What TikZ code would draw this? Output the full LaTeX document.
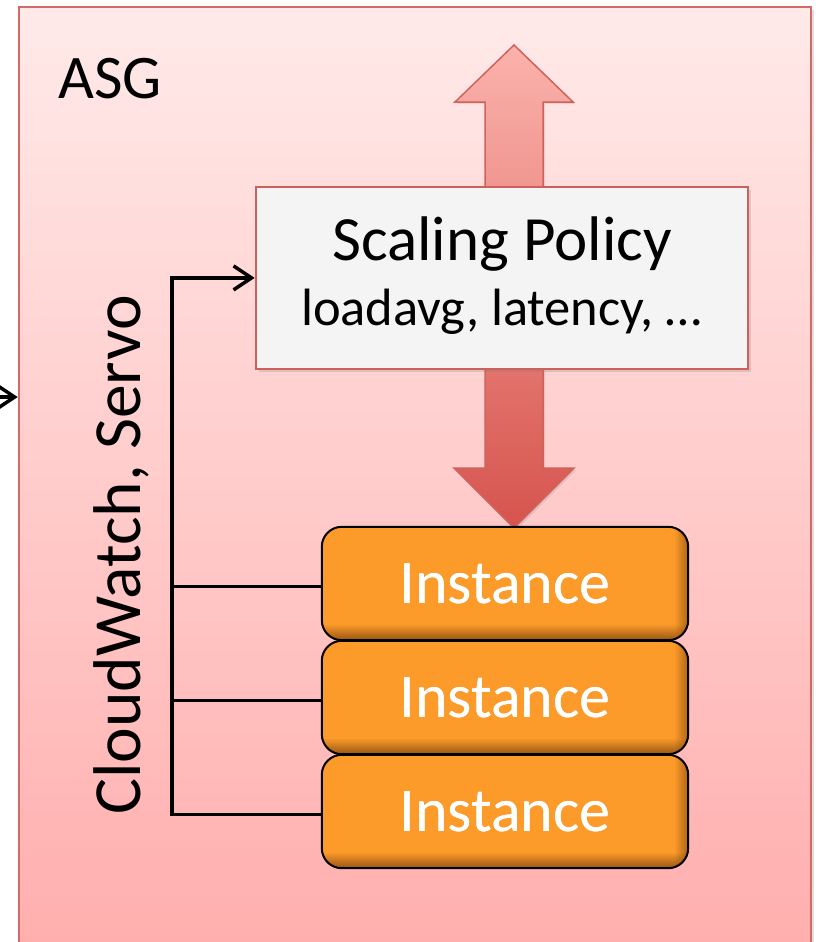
\documentclass[tikz,border=0pt]{standalone}
\usepackage{fontspec}
\setmainfont{Carlito}
\usetikzlibrary{arrows.meta,shadows,fadings}

\definecolor{asgtop}{RGB}{255,234,233}
\definecolor{asgbottom}{RGB}{255,174,173}
\definecolor{asgline}{RGB}{212,106,101}
\definecolor{policyfill}{RGB}{244,244,244}
\definecolor{policyline}{RGB}{206,96,91}
\definecolor{arrowtop}{RGB}{251,178,172}
\definecolor{arrowbottom}{RGB}{214,84,77}
\definecolor{arrowline}{RGB}{208,98,93}
\definecolor{instfill}{RGB}{252,154,42}
\definecolor{instdark}{RGB}{140,78,18}

\tikzset{
  groupbox/.style={draw=asgline, line width=2.5pt, top color=asgtop,
    bottom color=asgbottom, minimum width=792pt, minimum height=953pt,
    inner sep=0pt, drop shadow={shadow xshift=3pt, shadow yshift=-3pt, opacity=0.25}},
  policybox/.style={draw=policyline, line width=2pt, fill=policyfill,
    minimum width=492pt, minimum height=182pt, inner sep=0pt,
    drop shadow={shadow xshift=3pt, shadow yshift=-3pt, opacity=0.25}},
  blockarrow/.style={draw=arrowline, line width=1.5pt, top color=arrowtop,
    bottom color=arrowbottom,
    drop shadow={shadow xshift=2pt, shadow yshift=-2pt, opacity=0.2}},
  instbox/.style={fill=instfill, minimum width=366pt, minimum height=113pt,
    rounded corners=20pt, inner sep=0pt, text=white,
    font=\fontsize{62}{62}\selectfont},
  label/.style={inner sep=0pt, text=black},
  conn/.style={line width=3.5pt, draw=black},
  barb/.style={-{Straight Barb[length=18pt,width=24pt,line width=3.5pt]}},
}

\begin{document}
\begin{tikzpicture}[x=1pt,y=-1pt]
\useasboundingbox (0,0) rectangle (815,942);

% auto scaling group frame
\node[groupbox] (asg) at (415,483.5) {};
\node[label, anchor=base west, font=\fontsize{62}{62}\selectfont] (asgtitle) at (58,98) {ASG};

% scale up / scale down double arrow behind the policy box
\path[blockarrow] (514,45) -- (573,102) -- (543,102) -- (543,468) -- (574,468)
  -- (514,528) -- (454,468) -- (485,468) -- (485,102) -- (455,102) -- cycle;

% scaling policy
\node[policybox] (policy) at (501.7,277.9) {};
\node[label, anchor=base, font=\fontsize{63}{63}\selectfont] (policytitle) at (502,260) {Scaling Policy};
\node[label, anchor=base, font=\fontsize{52.5}{52.5}\selectfont] (policymetrics) at (501.5,325) {loadavg, latency, …};

% instances with a darker inner edge at bottom and right
\foreach \i/\y in {1/583.5, 2/697.5, 3/811.5} {
  \node[instbox] (inst\i) at (505,\y) {Instance};
  \begin{scope}
    \clip[rounded corners=20pt] (inst\i.south west) rectangle (inst\i.north east);
    \fill[instdark, path fading=north, fill opacity=0.9]
      (inst\i.south west) rectangle ([yshift=16pt]inst\i.south east);
    \fill[instdark, path fading=west, fill opacity=0.7]
      ([xshift=-14pt]inst\i.south east) rectangle (inst\i.north east);
  \end{scope}
  \node[instbox, fill=none] at (inst\i) {Instance};
  \draw[line width=2pt, rounded corners=20pt] (inst\i.south west) rectangle (inst\i.north east);
}

% metrics bus
\coordinate (bus) at (172,0);
\coordinate (j1) at ([yshift=-3pt]inst1.west);
\coordinate (j2) at ([yshift=-3pt]inst2.west);
\coordinate (j3) at ([yshift=-3pt]inst3.west);
\draw[conn] (j1) -- (j1 -| bus);
\draw[conn] (j2) -- (j2 -| bus);
\draw[conn, barb, line join=miter] (j3) -- (j3 -| bus) |- (policy.west);

\node[label, rotate=90, anchor=base, font=\fontsize{67.5}{67.5}\selectfont] (metricsrc) at (140,555) {CloudWatch, Servo};

% incoming connector from outside the group
\coordinate (ext) at (-12,397);
\draw[conn, barb] (ext) -- (ext -| asg.west);
\end{tikzpicture}
\end{document}
